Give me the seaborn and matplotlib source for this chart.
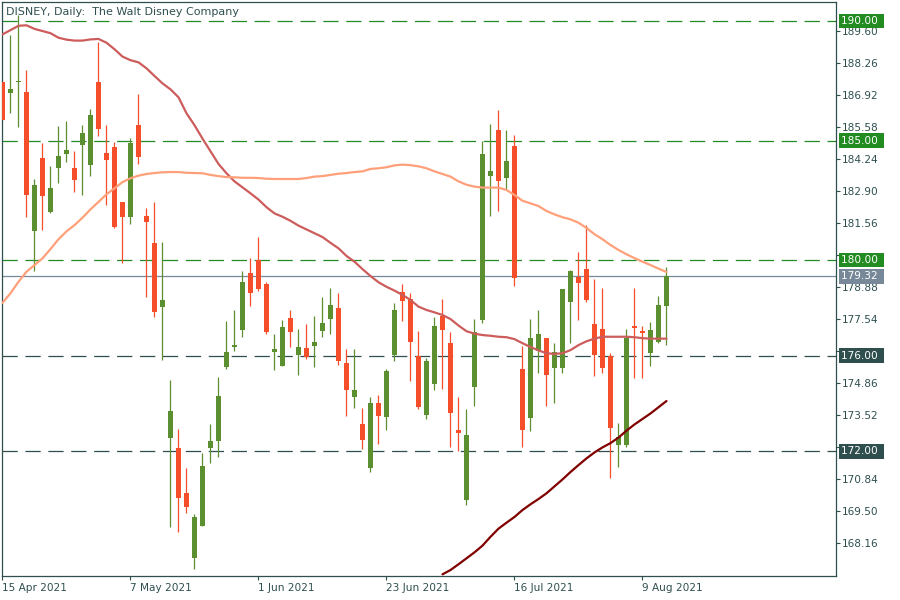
import numpy as np
import pandas as pd
import matplotlib
matplotlib.use("Agg")
import matplotlib.pyplot as plt
import matplotlib.transforms as mtransforms
import seaborn as sns

# -----------------------------
# DATA
# -----------------------------
dates = pd.bdate_range("2021-04-15", "2021-08-12", freq="C",
                       holidays=["2021-05-31", "2021-07-05"])

opens = [187.46, 187.00, 187.44, 187.05, 181.22, 184.25, 182.01, 183.86, 184.44, 183.86,
         184.82, 183.99, 187.43, 184.47, 184.73, 182.43, 181.82, 185.64, 181.84, 180.72,
         178.02, 172.57, 172.12, 170.24, 167.55, 168.89, 172.14, 172.43, 175.51, 176.36,
         177.07, 179.47, 180.00, 179.01, 176.15, 175.57, 177.56, 176.01, 176.31, 176.40,
         177.03, 177.53, 178.01, 175.68, 174.28, 173.14, 171.28, 174.01, 173.44, 176.01,
         178.67, 178.38, 175.99, 173.53, 174.82, 177.67, 176.51, 172.89, 169.95, 174.67,
         177.51, 183.52, 185.43, 183.44, 184.76, 175.45, 173.41, 176.21, 176.74, 175.50,
         175.50, 178.26, 179.30, 179.62, 177.33, 177.12, 176.00, 172.28, 172.24, 177.23,
         177.00, 176.09, 176.59, 178.08]
highs = [187.55, 189.41, 190.25, 187.97, 183.39, 184.88, 183.94, 185.59, 185.82, 184.55,
         185.64, 186.31, 189.14, 185.64, 184.93, 182.43, 185.09, 186.95, 182.18, 182.42,
         180.75, 174.96, 172.95, 171.29, 169.36, 171.93, 173.16, 175.12, 177.46, 177.89,
         179.56, 180.10, 180.97, 179.06, 176.89, 177.51, 177.89, 177.10, 177.31, 177.64,
         178.47, 178.85, 178.64, 176.26, 176.26, 173.81, 174.26, 174.35, 175.43, 178.22,
         179.01, 178.60, 177.01, 175.89, 177.60, 178.35, 176.97, 174.26, 173.77, 177.53,
         185.00, 185.68, 186.27, 185.43, 185.22, 176.41, 177.53, 177.91, 176.74, 176.53,
         178.79, 179.60, 180.33, 181.45, 179.21, 178.83, 176.11, 173.19, 177.12, 178.83,
         177.26, 177.42, 178.51, 179.69]
lows = [185.80, 186.16, 185.58, 181.82, 179.53, 181.27, 181.95, 183.23, 184.10, 182.84,
        182.73, 183.53, 185.20, 182.31, 181.35, 179.86, 181.52, 184.02, 178.45, 177.61,
        175.82, 168.84, 168.60, 169.42, 167.08, 168.89, 171.51, 171.77, 175.43, 176.19,
        176.78, 178.07, 178.69, 176.90, 175.40, 175.57, 176.36, 175.19, 175.85, 175.53,
        176.78, 176.89, 175.61, 173.49, 173.82, 172.11, 171.15, 172.32, 172.90, 175.76,
        177.44, 174.94, 173.78, 173.36, 174.57, 174.61, 172.19, 172.00, 169.75, 173.91,
        177.35, 181.85, 182.06, 182.99, 178.93, 172.16, 172.86, 175.28, 173.91, 174.03,
        175.28, 176.53, 177.51, 178.26, 175.14, 175.28, 170.90, 171.32, 172.16, 175.06,
        175.06, 175.58, 176.52, 176.45]
closes = [185.84, 187.15, 187.48, 182.73, 183.14, 182.68, 183.01, 184.35, 184.60, 183.36,
          185.31, 186.06, 185.49, 184.19, 181.38, 181.82, 184.88, 184.29, 181.60, 177.82,
          178.34, 173.70, 170.05, 169.67, 169.23, 171.40, 172.42, 174.33, 176.17, 176.44,
          179.10, 178.61, 178.78, 176.97, 176.26, 177.18, 176.99, 176.35, 175.94, 176.56,
          177.35, 178.10, 175.78, 174.57, 174.58, 172.49, 174.01, 173.49, 175.35, 177.89,
          178.28, 176.57, 173.86, 175.76, 177.26, 177.07, 173.61, 172.78, 172.69, 176.99,
          184.43, 183.72, 183.31, 184.14, 179.26, 172.87, 176.74, 176.91, 175.17, 176.14,
          178.79, 179.54, 179.05, 178.33, 176.03, 175.50, 172.99, 172.59, 176.74, 177.14,
          176.95, 177.08, 178.12, 179.32]

ma_fast = [189.44, 189.62, 189.80, 189.82, 189.67, 189.58, 189.49, 189.30, 189.22, 189.18,
           189.18, 189.23, 189.25, 189.09, 188.82, 188.51, 188.36, 188.27, 188.02, 187.70,
           187.39, 187.14, 186.81, 186.14, 185.64, 185.08, 184.55, 184.02, 183.63, 183.29,
           183.04, 182.79, 182.53, 182.21, 181.95, 181.81, 181.64, 181.44, 181.28, 181.12,
           180.96, 180.72, 180.49, 180.17, 179.93, 179.62, 179.33, 179.07, 178.88, 178.72,
           178.54, 178.33, 178.05, 177.91, 177.81, 177.70, 177.53, 177.26, 177.02, 176.92,
           176.86, 176.83, 176.79, 176.77, 176.69, 176.52, 176.36, 176.22, 176.10, 176.07,
           176.10, 176.23, 176.44, 176.60, 176.71, 176.79, 176.79, 176.79, 176.79, 176.77,
           176.73, 176.71, 176.71, 176.71]
ma_mid = [178.21, 178.61, 179.09, 179.51, 179.79, 180.07, 180.46, 180.87, 181.20, 181.46,
          181.77, 182.12, 182.43, 182.75, 183.00, 183.26, 183.42, 183.53, 183.60, 183.64,
          183.67, 183.68, 183.68, 183.65, 183.64, 183.63, 183.56, 183.51, 183.47, 183.46,
          183.44, 183.44, 183.43, 183.40, 183.39, 183.39, 183.39, 183.39, 183.43, 183.49,
          183.51, 183.56, 183.61, 183.64, 183.68, 183.71, 183.81, 183.84, 183.88, 183.96,
          183.99, 183.97, 183.92, 183.84, 183.71, 183.60, 183.49, 183.29, 183.15, 183.07,
          183.03, 183.03, 183.03, 182.93, 182.72, 182.48, 182.37, 182.26, 182.05, 181.91,
          181.79, 181.70, 181.56, 181.34, 181.08, 180.87, 180.63, 180.42, 180.24, 180.08,
          179.93, 179.79, 179.64, 179.50]
ma_slow = [np.nan] * 55 + [
    166.85, 167.03, 167.27, 167.52, 167.77, 168.05, 168.42, 168.76, 169.01, 169.25,
    169.54, 169.78, 170.00, 170.24, 170.53, 170.82, 171.13, 171.42, 171.70, 171.95,
    172.16, 172.34, 172.57, 172.86, 173.12, 173.35, 173.58, 173.84, 174.10]

level_green = [190.00, 185.00, 180.00]
level_dark = [176.00, 172.00]
last_price = 179.32
y_ticks = [168.16, 169.50, 170.84, 172.18, 173.52, 174.86, 176.20, 177.54, 178.88,
           180.22, 181.56, 182.90, 184.24, 185.58, 186.92, 188.26, 189.60]
# these three sit under the level boxes in the original
hidden_ticks = [172.18, 176.20, 180.22]
title = "DISNEY, Daily:  The Walt Disney Company"

df = pd.DataFrame({"date": dates, "open": opens, "high": highs, "low": lows,
                   "close": closes, "ma_fast": ma_fast, "ma_mid": ma_mid,
                   "ma_slow": ma_slow})
df["bar"] = np.arange(len(df))

# -----------------------------
# STYLE
# -----------------------------
sns.set_style("white")
plt.rcParams["font.family"] = ["DejaVu Sans"]
plt.rcParams["lines.scale_dashes"] = False

TXT = "#2F4F4F"
BULL = "#5B8F30"
BEAR = "#F44E2A"

fig = plt.figure(figsize=(9, 6), dpi=100)
ax = fig.add_axes([2 / 900, 24 / 600, 834 / 900, 574 / 600])

# -----------------------------
# LEVELS
# -----------------------------
for lv in level_green:
    ax.axhline(lv, color="#228B22", lw=0.9, dashes=(11, 5.5), zorder=1)
for lv in level_dark:
    ax.axhline(lv, color=TXT, lw=0.9, dashes=(11, 5.5), zorder=1)
ax.axhline(last_price, color="#778899", lw=0.9, zorder=1)

# -----------------------------
# CANDLES
# -----------------------------
up = df["close"] >= df["open"]
colors = np.where(up, BULL, BEAR)
ax.vlines(df["bar"], df["low"], df["high"], colors=colors, lw=0.9, zorder=2)
body = (df["close"] - df["open"]).abs().clip(lower=0.06)
ax.bar(df["bar"], body, bottom=df[["open", "close"]].min(axis=1), width=0.62,
       color=colors, linewidth=0, zorder=3)

# -----------------------------
# MOVING AVERAGES
# -----------------------------
sns.lineplot(data=df, x="bar", y="ma_fast", color="#CD5C5C", lw=1.6, ax=ax, zorder=4)
sns.lineplot(data=df, x="bar", y="ma_mid", color="#FFA07A", lw=1.6, ax=ax, zorder=4)
sns.lineplot(data=df.dropna(subset=["ma_slow"]), x="bar", y="ma_slow",
             color="#800000", lw=1.6, ax=ax, zorder=4)

# -----------------------------
# AXES
# -----------------------------
ax.set_xlim(-0.0625, 104.19)
ax.set_ylim(166.78, 190.795)
ax.set_xlabel("")
ax.set_ylabel("")

for s in ax.spines.values():
    s.set_color(TXT)
    s.set_linewidth(0.9)

ax.yaxis.tick_right()
ax.set_yticks(y_ticks)
ax.set_yticklabels(["" if v in hidden_ticks else f"{v:.2f}" for v in y_ticks])
ax.tick_params(axis="y", which="both", right=True, direction="out", length=3,
               width=0.8, color=TXT, labelcolor=TXT, labelsize=7.6, pad=1.5)

tick_bars = df["bar"][::16]
ax.set_xticks(tick_bars)
ax.set_xticklabels([f"{d.day} {d:%b %Y}" for d in df["date"][::16]], ha="left")
ax.tick_params(axis="x", bottom=True, direction="out", length=3, width=0.8,
               color=TXT, labelcolor=TXT, labelsize=7.6, pad=2)

ax.text(0.005, 0.9826, title, transform=ax.transAxes, ha="left", va="center",
        fontsize=8, color=TXT)

# price boxes on the right
trans = mtransforms.blended_transform_factory(ax.transAxes, ax.transData)
boxes = [(v, "#228B22") for v in level_green] + [(v, TXT) for v in level_dark] + \
        [(last_price, "#778899")]
for v, c in boxes:
    ax.text(1.0064, v, f"{v:.2f} ", transform=trans, ha="left", va="center",
            fontsize=7.6, color="white", clip_on=False, zorder=10,
            bbox=dict(boxstyle="square,pad=0.22", fc=c, ec="none"))

fig.savefig("out.png", dpi=100)
